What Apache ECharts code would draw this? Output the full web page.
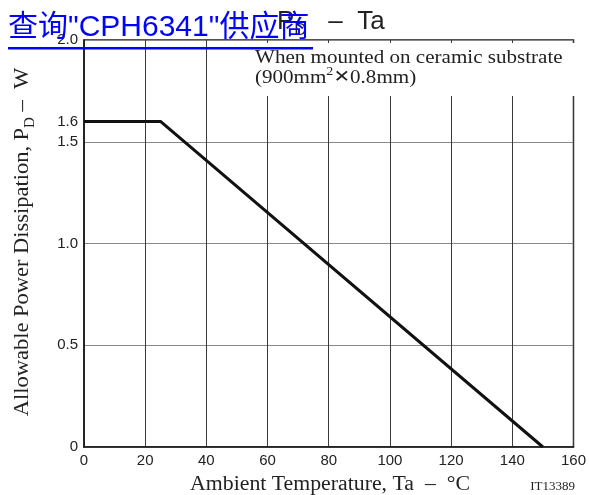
<!DOCTYPE html>
<html><head><meta charset="utf-8">
<script src="https://cdn.jsdelivr.net/npm/echarts@6/dist/echarts.min.js"></script>
<style>html,body{margin:0;padding:0;background:#fff}#c{width:589px;height:495px}</style>
</head><body><div id="c"></div>
<script>
// Data
const temps = [0, 25, 150];          // Ambient temperature, °C
const power = [1.6, 1.6, 0];          // Allowable power dissipation, W
const yLabelValues = [0, 0.5, 1.0, 1.5, 1.6, 2.0];
const xMin = 0, xMax = 160, xStep = 20;
const yMin = 0, yMax = 2.0, yStep = 0.5;

const chart = echarts.init(document.getElementById('c'));
const serif = '"Liberation Serif","Times New Roman",serif';
const sans = '"Liberation Sans",Arial,sans-serif';

chart.setOption({
  animation: false,
  backgroundColor: '#fff',
  grid: { left: 84, right: 13, top: 40, bottom: 48, show: true, borderColor: '#1a1a1a', borderWidth: 1.5, backgroundColor: 'transparent' },
  xAxis: {
    type: 'value', min: xMin, max: xMax, interval: xStep,
    axisLine: { show: true, lineStyle: { color: '#1a1a1a', width: 1.5 } },
    axisTick: { show: false },
    axisLabel: { color: '#222', fontSize: 15, fontFamily: sans, margin: 6 },
    splitLine: { show: true, lineStyle: { color: '#3a3a3a', width: 1 } }
  },
  yAxis: {
    type: 'value', min: yMin, max: yMax, interval: yStep,
    axisLine: { show: true, lineStyle: { color: '#1a1a1a', width: 1.5 } },
    axisTick: { show: false },
    axisLabel: {
      customValues: yLabelValues,
      color: '#222', fontSize: 15, fontFamily: sans, margin: 6,
      formatter: v => (v === 0 ? '0' : v.toFixed(1))
    },
    splitLine: { show: true, lineStyle: { color: '#8a8a8a', width: 1 } }
  },
  series: [{
    type: 'line',
    data: temps.map((t, i) => [t, power[i]]),
    symbol: 'none',
    lineStyle: { color: '#111', width: 3 },
    z: 3
  }],
  graphic: [
    { type: 'rect', z: 50, shape: { x: 250, y: 43, width: 325, height: 53 }, style: { fill: '#fff' } },
    { type: 'text', z: 51, x: 255, y: 58, scaleX: 1.17,
      style: { text: 'When mounted on ceramic substrate', font: '18px ' + serif, fill: '#222', verticalAlign: 'middle', align: 'left' } },
    { type: 'text', z: 51, x: 255, y: 78, scaleX: 1.17,
      style: { text: '{a|(900mm}{sup|2}{x|✕}{a|0.8mm)}', verticalAlign: 'middle', align: 'left',
        rich: {
          a: { fontSize: 18, fontFamily: serif, fill: '#222', color: '#222', lineHeight: 24 },
          sup: { fontSize: 12, fontFamily: serif, fill: '#222', color: '#222', verticalAlign: 'top' },
          x: { fontSize: 17, fontFamily: '"DejaVu Sans",sans-serif', fill: '#222', color: '#222' }
        } } },
    { type: 'text', z: 51, x: 22, y: 242, rotation: Math.PI / 2, scaleX: 1.07,
      style: { text: '{a|Allowable Power Dissipation, P}{sub|D}{a| –  W}', align: 'center', verticalAlign: 'middle',
        rich: {
          a: { fontSize: 21, fontFamily: serif, fill: '#222', color: '#222', lineHeight: 30 },
          sub: { fontSize: 14, fontFamily: serif, fill: '#222', color: '#222', verticalAlign: 'bottom' }
        } } },
    { type: 'text', z: 51, x: 330, y: 485, scaleX: 1.09,
      style: { text: 'Ambient Temperature, Ta  –  °C', font: '20px ' + serif, fill: '#222', align: 'center', verticalAlign: 'middle' } },
    { type: 'text', z: 51, x: 575, y: 487,
      style: { text: 'IT13389', font: '13px ' + serif, fill: '#222', align: 'right', verticalAlign: 'middle' } },
    { type: 'text', z: 60, x: 277, y: 22,
      style: { text: '{a|P}{sub|D}{a|   –  Ta}', align: 'left', verticalAlign: 'middle',
        rich: {
          a: { fontSize: 26, fontFamily: sans, fill: '#222', color: '#222', lineHeight: 34 },
          sub: { fontSize: 17, fontFamily: sans, fill: '#222', color: '#222', verticalAlign: 'bottom' }
        } } },
    { type: 'text', z: 100, x: 8, y: 28,
      style: { text: '查询"CPH6341"供应商', font: '30px "Liberation Sans","Noto Sans CJK SC",sans-serif', fill: '#0000ff', align: 'left', verticalAlign: 'middle' } },
    { type: 'rect', z: 100, shape: { x: 8, y: 47, width: 305, height: 2.5 }, style: { fill: '#0000ff' } }
  ]
});
</script></body></html>
